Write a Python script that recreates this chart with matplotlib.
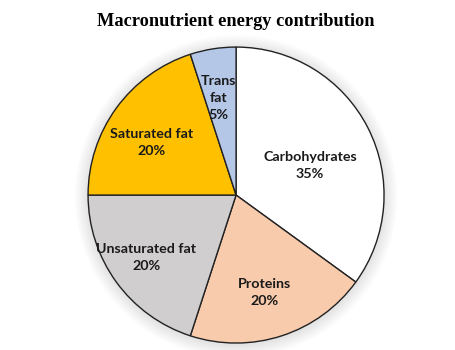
import numpy as np
import matplotlib.pyplot as plt
from matplotlib.patches import Circle

labels = ['Carbohydrates', 'Proteins', 'Unsaturated fat', 'Saturated fat', 'Trans\nfat']
shares = [35, 20, 20, 20, 5]
colors = ['#FFFFFF', '#F8CBAD', '#D0CECE', '#FFC000', '#B4C7E7']

# label placement inside each wedge (radius, angle in degrees)
label_r = [0.54, 0.684, 0.738, 0.67, 0.667]
label_ang = [22, -73.4, -145.4, 148, 100.5]

fig = plt.figure(figsize=(4.56, 3.5), dpi=100)
ax = fig.add_axes([0, 0, 1, 1])

wedges, _ = ax.pie(shares, colors=colors, startangle=90, counterclock=False,
                   radius=1.0,
                   wedgeprops=dict(edgecolor='#222222', linewidth=1.0))
for w in wedges:
    w.set_zorder(2)

# soft drop shadow behind the pie
for i in range(10):
    ax.add_patch(Circle((0.0, -0.01), 1.0 + 0.01 * i, color='black',
                        alpha=0.01, lw=0, zorder=0))

for lab, val, r, a in zip(labels, shares, label_r, label_ang):
    ang = np.deg2rad(a)
    ax.text(r * np.cos(ang), r * np.sin(ang), f'{lab}\n{val}%',
            ha='center', va='center', fontsize=10.3, fontweight='bold',
            family='Lato', color='#1a1a1a', linespacing=1.5, zorder=3)

ax.set_xlim(-1.595, 1.486)
ax.set_ylim(-1.047, 1.318)
ax.set_aspect('equal')
ax.axis('off')

fig.text(0.516, 0.94, 'Macronutrient energy contribution', ha='center',
         va='center', fontsize=13.2, fontweight='bold',
         family='Liberation Serif')

fig.savefig('out.png', dpi=100)
